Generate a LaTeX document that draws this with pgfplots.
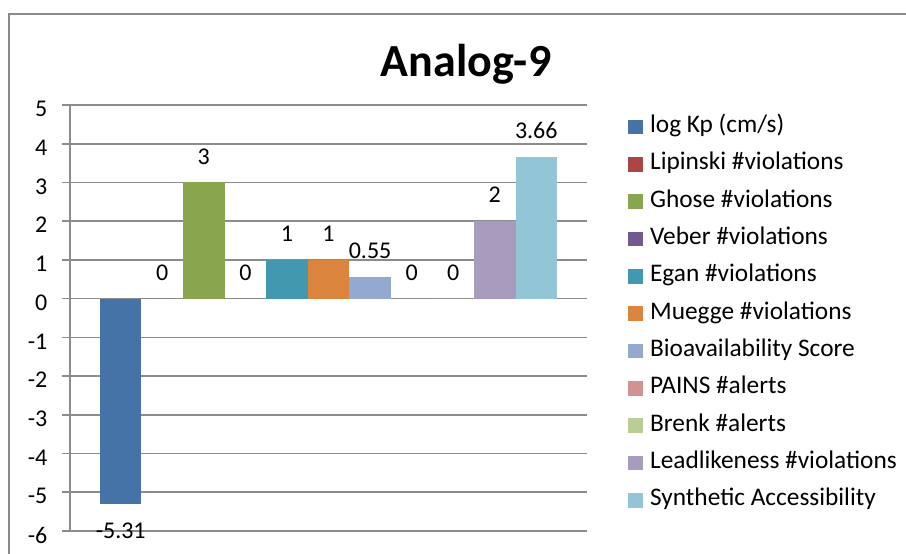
\documentclass[border=0pt]{standalone}
\usepackage{pgfplots}
\pgfplotsset{compat=1.18}
\usepackage{fontspec}
\setmainfont{Carlito}
\definecolor{c0}{HTML}{4572A7}
\definecolor{c1}{HTML}{AA4643}
\definecolor{c2}{HTML}{89A54E}
\definecolor{c3}{HTML}{71588F}
\definecolor{c4}{HTML}{4198AF}
\definecolor{c5}{HTML}{DB843D}
\definecolor{c6}{HTML}{93A9CF}
\definecolor{c7}{HTML}{D19392}
\definecolor{c8}{HTML}{B9CD96}
\definecolor{c9}{HTML}{A99BBD}
\definecolor{c10}{HTML}{92C5D6}
\definecolor{gridgray}{HTML}{8C8C8C}
\definecolor{framegray}{HTML}{8A8A8A}
\begin{document}
\begin{tikzpicture}[x=1pt,y=1pt]
\useasboundingbox (0,0) rectangle (679.5,414.75);
\draw[line width=1.5pt, color=framegray] (7.1,-5) -- (7.1,404.25) -- (690,404.25);
\node[anchor=base, font=\fontsize{34.5}{40}\selectfont\bfseries, text=black] at (349.5,357) {Analog-9};
\begin{axis}[
  at={(52.5pt,16.5pt)}, anchor=south west,
  scale only axis, width=387.75pt, height=319.5pt,
  xmin=-1.22, xmax=11.22, ymin=-6, ymax=5,
  ytick={-6,-5,-4,-3,-2,-1,0,1,2,3,4,5},
  xtick=\empty,
  axis x line=none,
  axis y line*=left,
  y axis line style={gridgray, line width=1.2pt, -},
  ymajorgrids,
  grid style={gridgray, line width=1.2pt},
  ytick align=outside,
  major tick length=6pt,
  major tick style={gridgray, line width=1.2pt},
  /pgf/number format/assume math mode=true,
  yticklabel style={font=\fontsize{18}{20}\selectfont, text=black, yshift=-3pt, xshift=-7.5pt},
  ybar, bar width=1, bar shift=0pt,
  nodes near coords={\pgfmathprintnumber{\pgfplotspointmeta}},
  every node near coord/.append style={font=\fontsize{18}{20}\selectfont, text=black, inner ysep=13.5pt},
  legend image code/.code={\fill[#1] (0pt,-5.6pt) rectangle (11.25pt,5.6pt);},
  legend cell align=left,
  legend style={at={(1.079,0.974)}, anchor=north west, draw=none, fill=none, inner sep=0pt,
    font=\fontsize{19}{21}\selectfont, row sep=12pt,
    nodes={inner sep=0pt, text height=12pt, text depth=4pt},
    /tikz/every odd column/.append style={column sep=5.25pt}},
]
\addplot[fill=c0, draw=none] coordinates {(0,-5.31)};
\addlegendentry{log Kp (cm/s)}
\addplot[fill=c1, draw=none] coordinates {(1,0)};
\addlegendentry{Lipinski \#violations}
\addplot[fill=c2, draw=none] coordinates {(2,3)};
\addlegendentry{Ghose \#violations}
\addplot[fill=c3, draw=none] coordinates {(3,0)};
\addlegendentry{Veber \#violations}
\addplot[fill=c4, draw=none] coordinates {(4,1)};
\addlegendentry{Egan \#violations}
\addplot[fill=c5, draw=none] coordinates {(5,1)};
\addlegendentry{Muegge \#violations}
\addplot[fill=c6, draw=none] coordinates {(6,0.55)};
\addlegendentry{Bioavailability Score}
\addplot[fill=c7, draw=none] coordinates {(7,0)};
\addlegendentry{PAINS \#alerts}
\addplot[fill=c8, draw=none] coordinates {(8,0)};
\addlegendentry{Brenk \#alerts}
\addplot[fill=c9, draw=none] coordinates {(9,2)};
\addlegendentry{Leadlikeness \#violations}
\addplot[fill=c10, draw=none] coordinates {(10,3.66)};
\addlegendentry{Synthetic Accessibility}
\end{axis}
\end{tikzpicture}
\end{document}
